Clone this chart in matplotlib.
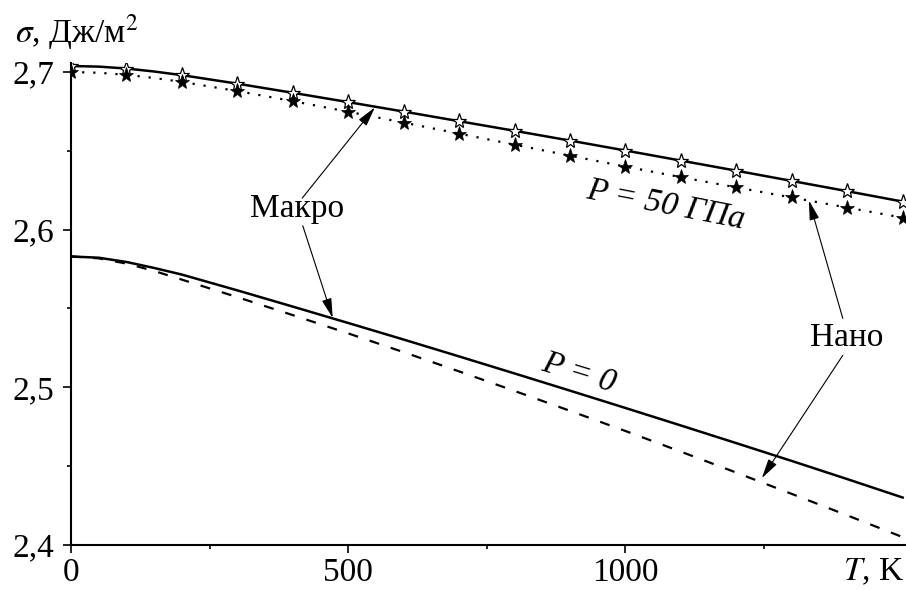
import matplotlib
matplotlib.use('Agg')
import matplotlib.pyplot as plt
from matplotlib.ticker import FixedLocator, FuncFormatter

T = [0, 50, 100, 150, 200, 300, 400, 500, 600, 700, 800, 900, 1000, 1100, 1200, 1300, 1400, 1500]

# P = 50 GPa
macro50 = [2.7038, 2.7034, 2.7022, 2.7003, 2.6980, 2.6926, 2.6868, 2.6809, 2.6749, 2.6688,
           2.6627, 2.6565, 2.6502, 2.6438, 2.6374, 2.6309, 2.6244, 2.6178]
nano50 = [2.700, 2.6995, 2.6982, 2.6962, 2.6937, 2.6879, 2.6815, 2.6748, 2.6679, 2.6609,
          2.6539, 2.6469, 2.6400, 2.6333, 2.6268, 2.6204, 2.6140, 2.6076]

# P = 0
macro0 = [2.583, 2.5822, 2.5795, 2.5757, 2.5715, 2.5615, 2.5512, 2.5408, 2.5303, 2.5196,
          2.5088, 2.4979, 2.4869, 2.4758, 2.4646, 2.4533, 2.4418, 2.4301]
nano0 = [2.583, 2.5818, 2.5785, 2.5738, 2.5683, 2.5572, 2.5458, 2.5342, 2.5223, 2.5101,
         2.4977, 2.4851, 2.4723, 2.4592, 2.4459, 2.4324, 2.4188, 2.4050]

plt.rcParams['font.family'] = ['Liberation Serif', 'DejaVu Serif']
plt.rcParams['mathtext.fontset'] = 'stix'
fs = 24

fig = plt.figure(figsize=(9.06, 5.90), dpi=100)
ax = fig.add_axes([71 / 906, 45 / 590, 835 / 906, 482 / 590])

# stars only every 100 K
every = [i for i, t in enumerate(T) if t % 100 == 0]

ax.plot(T, macro50, '-', c='k', lw=1.8)
ax.plot(T, nano50, ':', c='k', lw=1.6, dashes=(1, 4))
ax.plot(T, macro50, '*', ms=11, mfc='white', mec='k', mew=0.9, markevery=every)
ax.plot(T, nano50, '*', ms=11, mfc='k', mec='k', mew=0.5, markevery=every)
ax.plot(T, macro0, '-', c='k', lw=1.8)
ax.plot(T, nano0, '--', c='k', lw=1.6, dashes=(4.5, 5.5))

ax.set_xlim(0, 1506)
ax.set_ylim(2.4, 2.7057)
ax.xaxis.set_major_locator(FixedLocator([0, 500, 1000]))
ax.xaxis.set_minor_locator(FixedLocator([250, 750, 1250]))
ax.yaxis.set_major_locator(FixedLocator([2.4, 2.5, 2.6, 2.7]))
ax.yaxis.set_minor_locator(FixedLocator([2.45, 2.55, 2.65]))
ax.yaxis.set_major_formatter(FuncFormatter(lambda v, p: '{:.1f}'.format(v).replace('.', ',')))
ax.tick_params(which='major', direction='out', length=6, width=1.2, labelsize=fs, pad=3)
ax.tick_params(axis='y', which='major', pad=6)
ax.tick_params(which='minor', direction='out', length=3, width=1.2)
for s in ['top', 'right']:
    ax.spines[s].set_visible(False)
for s in ['left', 'bottom']:
    ax.spines[s].set_linewidth(1.5)

# labels
fig.text(15 / 906, 1 - 42 / 590, r'$\sigma$, Дж/м$^2$', fontsize=fs, va='baseline', ha='left')
fig.text(904 / 906, 1 - 580 / 590, r'$T$, K', fontsize=fs, va='baseline', ha='right')

ax.text(408, 2.613, 'Макро', fontsize=fs, ha='center', va='center')
ax.text(1399, 2.5316, 'Нано', fontsize=fs, ha='center', va='center')
ax.text(1073, 2.6155, 'P = 50 ГПа', fontsize=fs, style='italic', ha='center', va='center',
        rotation=-11, rotation_mode='anchor')
ax.text(916, 2.509, 'P = 0', fontsize=fs, style='italic', ha='center', va='center',
        rotation=-17, rotation_mode='anchor')

arrow = dict(arrowstyle='-|>,head_length=0.6,head_width=0.15', mutation_scale=20,
             lw=0.8, color='k', shrinkA=0, shrinkB=0)
ax.annotate('', xy=(548, 2.6775), xytext=(417, 2.620), arrowprops=arrow)
ax.annotate('', xy=(472, 2.5440), xytext=(418, 2.6025), arrowprops=arrow)
ax.annotate('', xy=(1331, 2.6185), xytext=(1392, 2.5437), arrowprops=arrow)
ax.annotate('', xy=(1246, 2.4424), xytext=(1392, 2.5203), arrowprops=arrow)

fig.savefig('out.png', dpi=100)
